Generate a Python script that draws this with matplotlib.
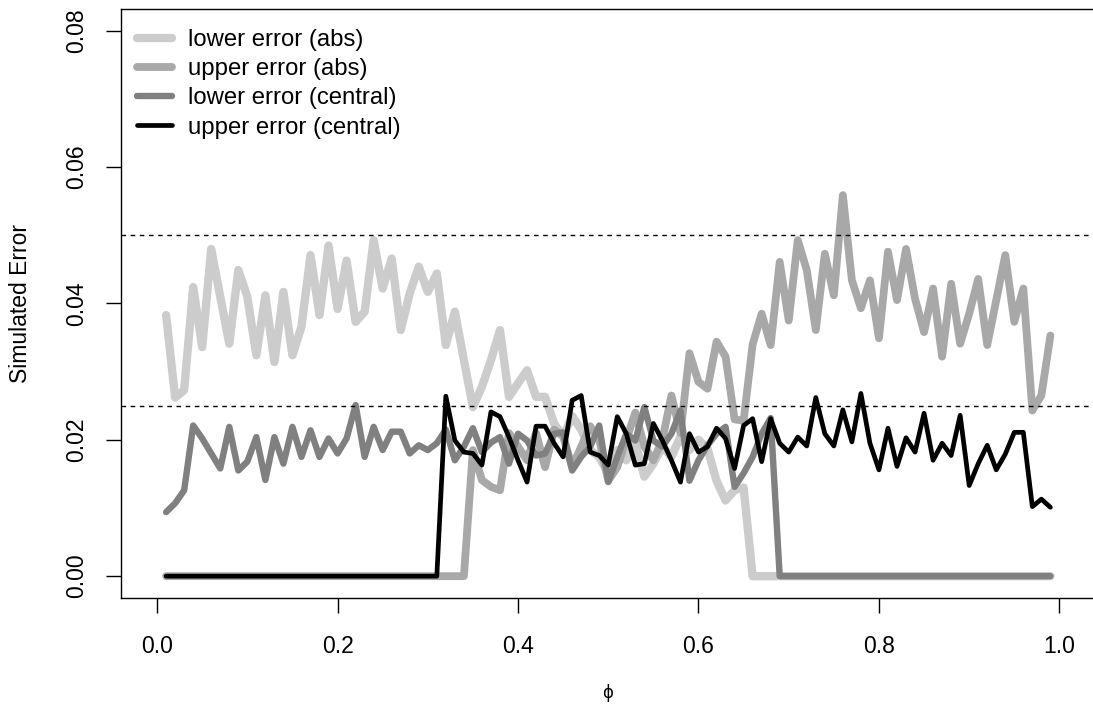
import numpy as np
import matplotlib
matplotlib.use("Agg")
import matplotlib.pyplot as plt

# phi grid and the four simulated error curves
phi = np.round(np.arange(1, 100) / 100.0, 2)

lower_abs = [0.0383, 0.0262, 0.0273, 0.0424, 0.0336, 0.0480, 0.0410, 0.0341, 0.0449, 0.0410,
             0.0324, 0.0412, 0.0314, 0.0417, 0.0324, 0.0366, 0.0471, 0.0383, 0.0485, 0.0392,
             0.0463, 0.0373, 0.0388, 0.0493, 0.0422, 0.0466, 0.0361, 0.0415, 0.0454, 0.0417,
             0.0444, 0.0339, 0.0388, 0.0317, 0.0248, 0.0278, 0.0317, 0.0361, 0.0263, 0.0283,
             0.0302, 0.0263, 0.0263, 0.0224, 0.0205, 0.0235, 0.0215, 0.0185, 0.0175, 0.0150,
             0.0185, 0.0170, 0.0195, 0.0146, 0.0165, 0.0190, 0.0175, 0.0205, 0.0185, 0.0200,
             0.0187, 0.0140, 0.0111, 0.0126, 0.0130] + [0.0] * 34

upper_abs = [0.0] * 34 + \
            [0.0185, 0.0141, 0.0131, 0.0126, 0.0210, 0.0190, 0.0170, 0.0210, 0.0160, 0.0215,
             0.0205, 0.0160, 0.0190, 0.0220, 0.0200, 0.0140, 0.0160, 0.0200, 0.0240, 0.0190,
             0.0170, 0.0200, 0.0265, 0.0210, 0.0327, 0.0285, 0.0275, 0.0344, 0.0322, 0.0230,
             0.0228, 0.0340, 0.0385, 0.0339, 0.0461, 0.0375, 0.0493, 0.0449, 0.0361, 0.0473,
             0.0412, 0.0559, 0.0434, 0.0393, 0.0434, 0.0349, 0.0476, 0.0405, 0.0480, 0.0407,
             0.0358, 0.0422, 0.0322, 0.0429, 0.0341, 0.0385, 0.0436, 0.0339, 0.0405, 0.0471,
             0.0373, 0.0422, 0.0243, 0.0265, 0.0353]

lower_central = [0.0094, 0.0107, 0.0126, 0.0221, 0.0202, 0.0180, 0.0158, 0.0219, 0.0155, 0.0168,
                 0.0204, 0.0141, 0.0204, 0.0165, 0.0219, 0.0175, 0.0214, 0.0175, 0.0202, 0.0180,
                 0.0202, 0.0251, 0.0175, 0.0219, 0.0185, 0.0212, 0.0212, 0.0180, 0.0192, 0.0185,
                 0.0195, 0.0215, 0.0170, 0.0190, 0.0217, 0.0182, 0.0196, 0.0204, 0.0165, 0.0209,
                 0.0199, 0.0177, 0.0180, 0.0209, 0.0211, 0.0155, 0.0175, 0.0190, 0.0221, 0.0138,
                 0.0175, 0.0209, 0.0199, 0.0248, 0.0199, 0.0190, 0.0209, 0.0243, 0.0140, 0.0170,
                 0.0192, 0.0209, 0.0219, 0.0131, 0.0151, 0.0175, 0.0209, 0.0232] + [0.0] * 31

upper_central = [0.0] * 31 + \
                [0.0264, 0.0199, 0.0182, 0.0180, 0.0163, 0.0241, 0.0234, 0.0204, 0.0170, 0.0138,
                 0.0220, 0.0220, 0.0195, 0.0175, 0.0258, 0.0265, 0.0182, 0.0177, 0.0163, 0.0234,
                 0.0209, 0.0163, 0.0165, 0.0224, 0.0199, 0.0170, 0.0138, 0.0209, 0.0182, 0.0190,
                 0.0217, 0.0202, 0.0158, 0.0221, 0.0231, 0.0168, 0.0231, 0.0195, 0.0182, 0.0204,
                 0.0191, 0.0262, 0.0209, 0.0191, 0.0244, 0.0197, 0.0268, 0.0195, 0.0156, 0.0217,
                 0.0161, 0.0203, 0.0182, 0.0239, 0.0170, 0.0195, 0.0177, 0.0236, 0.0133, 0.0165,
                 0.0192, 0.0156, 0.0179, 0.0211, 0.0211, 0.0102, 0.0113, 0.0101]

labels = ["lower error (abs)", "upper error (abs)",
          "lower error (central)", "upper error (central)"]
colors = ["#cccccc", "#a8a8a8", "#808080", "#000000"]
widths = [6.0, 5.6, 4.6, 3.4]
ref_levels = [0.025, 0.05]

plt.rcParams['font.family'] = ['Liberation Sans', 'DejaVu Sans']

fig = plt.figure(figsize=(10.93, 7.04), dpi=100)
ax = fig.add_axes([0.1107, 0.1506, 0.8916, 0.8366])

series = [lower_abs, upper_abs, lower_central, upper_central]
for vals, lab, col, lw in zip(series, labels, colors, widths):
    ax.plot(phi, vals, color=col, lw=lw, label=lab,
            solid_capstyle='round', solid_joinstyle='round')

for lev in ref_levels:
    ax.axhline(lev, color='black', lw=1.0, dashes=(3.3, 3.3), zorder=5)

ax.set_xlim(-0.04, 1.04)
ax.set_ylim(-0.0032, 0.0832)
ax.set_xticks([0.0, 0.2, 0.4, 0.6, 0.8, 1.0])
ax.set_xticklabels(["0.0", "0.2", "0.4", "0.6", "0.8", "1.0"])
ax.set_yticks([0.0, 0.02, 0.04, 0.06, 0.08])
ax.set_yticklabels(["0.00", "0.02", "0.04", "0.06", "0.08"])

ax.tick_params(axis='both', direction='out', length=10.8, width=1.0,
               labelsize=16.5, color='black')
ax.tick_params(axis='x', pad=15.5)
ax.tick_params(axis='y', pad=13, labelrotation=90)
for t in ax.get_yticklabels():
    t.set_va('center')

for sp in ax.spines.values():
    sp.set_linewidth(1.0)

fig.text(0.0192, 0.569, "Simulated Error", rotation=90, ha='center',
         va='center', fontsize=16.5)
fig.text(0.5563, 0.008, "\u03d5", ha='center', va='baseline', fontsize=12,
         family=['DejaVu Sans'])

ax.legend(loc='upper left', bbox_to_anchor=(0.0164, 0.966), frameon=False,
          fontsize=17.2, handlelength=1.45, handletextpad=0.7, labelspacing=0.3,
          borderpad=0, borderaxespad=0)

fig.savefig("out.png", dpi=100)
